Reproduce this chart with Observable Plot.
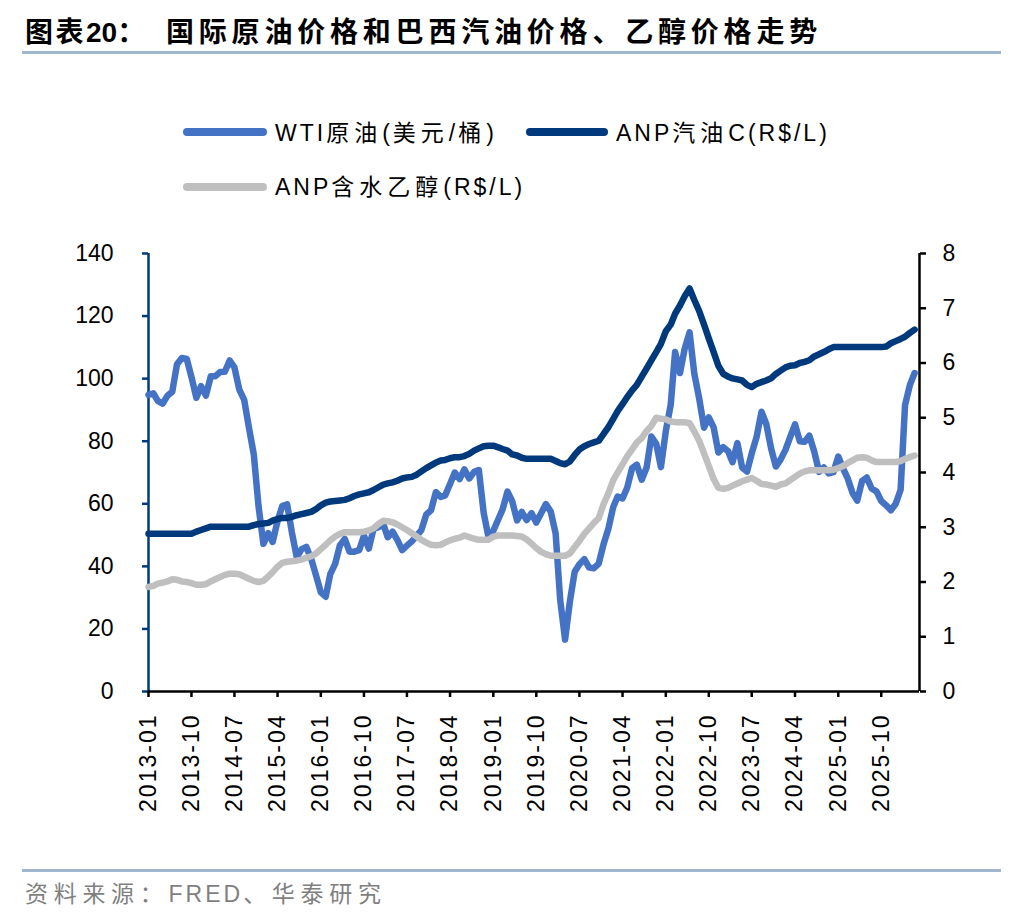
<!DOCTYPE html>
<html>
<head>
<meta charset="utf-8">
<script src="https://cdn.jsdelivr.net/npm/d3@7"></script>
<script src="https://cdn.jsdelivr.net/npm/@observablehq/plot@0.6"></script>
<style>
  body { margin: 0; background: #fff; }
  #wrap { position: relative; width: 1036px; height: 916px; overflow: hidden;
          font-family: "Liberation Sans", Arial, "Noto Sans CJK SC", sans-serif; color: #000; }
  .abs { position: absolute; white-space: nowrap; }
  .rule { position: absolute; left: 22px; width: 979px; height: 3px; background: #A0B6CE; }
  .swatch { position: absolute; height: 8px; border-radius: 4px; }
  .lg { font-size: 23px; line-height: 23px; letter-spacing: 3px; }
  #chart { position: absolute; left: 0; top: 230px; }
  g[aria-label="x-axis tick label"] text { letter-spacing: 2px; }
</style>
</head>
<body>
<div id="wrap">
  <div class="abs" id="title1" style="left:25px; top:19px; font-size:28px; line-height:28px; font-weight:700;"></div>
  <div class="abs" id="title2" style="left:166px; top:19px; font-size:28px; line-height:28px; font-weight:700;"></div>
  <div class="rule" style="top:51px;"></div>

  <div class="swatch" id="sw0" style="left:183px; top:127.5px; width:84px;"></div>
  <div class="abs lg" id="lg0" style="left:275px; top:122px;"></div>
  <div class="swatch" id="sw1" style="left:526px; top:127.5px; width:82px;"></div>
  <div class="abs lg" id="lg1" style="left:616px; top:122px;"></div>
  <div class="swatch" id="sw2" style="left:183px; top:182.5px; width:84px;"></div>
  <div class="abs lg" id="lg2" style="left:275px; top:176px;"></div>

  <div id="chart"></div>

  <div class="rule" style="top:868.5px;"></div>
  <div class="abs" id="src" style="left:25px; top:882.5px; font-size:23px; line-height:23px; letter-spacing:3px; color:#7F7F7F;"></div>
</div>
<script>
// ---------------- data ----------------
const titleLead = "图表20：";
const titleMain = "国际原油价格和巴西汽油价格、乙醇价格走势";
const sourceText = "资料来源：FRED、华泰研究";
const seriesNames = ["WTI原油(美元/桶)", "ANP汽油C(R$/L)", "ANP含水乙醇(R$/L)"];
const seriesColors = ["#4472C4", "#003A7D", "#BFBFBF"];

const firstMonth = "2013-01";
const axisEndMonth = "2026-06";

// WTI crude, USD/bbl, monthly from 2013-01 (left axis)
const wti = [
  94.8, 95.3, 92.9, 92.0, 94.5, 95.8, 104.6, 106.6, 106.3, 100.5, 93.9, 97.6,
  94.6, 100.8, 100.8, 102.1, 102.2, 105.8, 103.6, 96.5, 93.2, 84.4, 75.8, 59.3,
  47.2, 50.6, 47.8, 54.5, 59.3, 59.8, 50.9, 42.9, 45.5, 46.2, 42.4, 37.2,
  31.7, 30.3, 37.5, 40.8, 46.7, 48.8, 44.7, 44.7, 45.2, 49.8, 45.7, 52.0,
  52.5, 53.5, 49.3, 51.1, 48.5, 45.2, 46.6, 48.0, 49.8, 51.6, 56.6, 57.9,
  63.7, 62.2, 62.7, 66.3, 70.0, 67.9, 71.0, 68.1, 70.2, 70.8, 57.0, 49.5,
  51.4, 55.0, 58.2, 63.9, 60.8, 54.7, 57.4, 54.8, 57.0, 54.0, 57.0, 59.9,
  57.5, 50.5, 29.2, 16.6, 28.6, 38.3, 40.7, 42.3, 39.6, 39.4, 40.9, 47.0,
  52.0, 59.0, 62.3, 61.7, 65.2, 71.4, 72.5, 67.7, 71.6, 81.5, 79.2, 71.7,
  83.2, 91.6, 108.5, 101.8, 109.6, 114.8, 101.6, 93.7, 84.3, 87.6, 84.4, 76.4,
  78.1, 76.8, 73.3, 79.4, 71.6, 70.3, 76.1, 81.4, 89.4, 85.6, 77.7, 71.9,
  74.2, 77.3, 81.3, 85.4, 80.0, 79.8, 81.8, 76.7, 70.2, 71.6, 69.7, 70.1,
  75.1, 71.2, 68.2, 63.5, 61.0, 67.3, 68.4, 64.9, 63.9, 60.9, 59.5, 57.9,
  60.0, 64.5, 91.5, 98.0, 101.8
];

// ANP gasoline C, R$/L (right axis)
const gasoline = [
  2.88, 2.88, 2.88, 2.88, 2.88, 2.88, 2.88, 2.88, 2.88, 2.88, 2.92, 2.95,
  2.98, 3.01, 3.01, 3.01, 3.01, 3.01, 3.01, 3.01, 3.01, 3.01, 3.04, 3.06,
  3.07, 3.08, 3.12, 3.15, 3.17, 3.17, 3.19, 3.22, 3.24, 3.26, 3.28, 3.33,
  3.40, 3.45, 3.47, 3.48, 3.49, 3.50, 3.53, 3.57, 3.60, 3.62, 3.64, 3.68,
  3.73, 3.78, 3.80, 3.82, 3.85, 3.89, 3.91, 3.92, 3.96, 4.02, 4.08, 4.13,
  4.18, 4.22, 4.23, 4.26, 4.28, 4.28, 4.30, 4.34, 4.40, 4.44, 4.48, 4.49,
  4.49, 4.46, 4.43, 4.40, 4.33, 4.31, 4.27, 4.25, 4.25, 4.25, 4.25, 4.25,
  4.25, 4.21, 4.17, 4.15, 4.20, 4.32, 4.42, 4.48, 4.52, 4.55, 4.58, 4.70,
  4.83, 4.98, 5.12, 5.25, 5.38, 5.50, 5.60, 5.75, 5.90, 6.05, 6.20, 6.35,
  6.58, 6.70, 6.90, 7.05, 7.22, 7.36, 7.15, 6.95, 6.70, 6.45, 6.20, 5.95,
  5.80, 5.75, 5.72, 5.70, 5.68, 5.60, 5.56, 5.62, 5.65, 5.68, 5.72, 5.80,
  5.86, 5.92, 5.95, 5.96, 6.00, 6.02, 6.05, 6.12, 6.16, 6.20, 6.25, 6.29,
  6.29, 6.29, 6.29, 6.29, 6.29, 6.29, 6.29, 6.29, 6.29, 6.29, 6.30, 6.36,
  6.40, 6.44, 6.48, 6.55, 6.61
];

// ANP hydrous ethanol, R$/L (right axis)
const ethanol = [
  1.91, 1.93, 1.97, 1.99, 2.01, 2.05, 2.04, 2.01, 2.00, 1.98, 1.95, 1.95,
  1.96, 2.01, 2.05, 2.09, 2.13, 2.15, 2.15, 2.14, 2.10, 2.06, 2.02, 2.00,
  2.02, 2.10, 2.18, 2.28, 2.35, 2.37, 2.38, 2.39, 2.41, 2.44, 2.47, 2.52,
  2.60, 2.68, 2.76, 2.83, 2.88, 2.91, 2.91, 2.91, 2.91, 2.92, 2.94, 2.98,
  3.06, 3.12, 3.11, 3.09, 3.05, 3.00, 2.95, 2.89, 2.83, 2.77, 2.72, 2.68,
  2.67, 2.68, 2.72, 2.76, 2.79, 2.81, 2.85, 2.82, 2.79, 2.77, 2.77, 2.77,
  2.83, 2.85, 2.85, 2.85, 2.85, 2.84, 2.83, 2.78, 2.70, 2.62, 2.55, 2.51,
  2.48, 2.48, 2.48, 2.48, 2.52, 2.64, 2.75, 2.88, 2.98, 3.08, 3.17, 3.42,
  3.62, 3.86, 4.00, 4.15, 4.30, 4.42, 4.55, 4.63, 4.76, 4.85, 5.00, 4.98,
  4.97, 4.93, 4.92, 4.92, 4.92, 4.90, 4.75, 4.58, 4.35, 4.12, 3.88, 3.72,
  3.70, 3.72, 3.76, 3.80, 3.84, 3.87, 3.90, 3.85, 3.79, 3.78, 3.76, 3.74,
  3.78, 3.80, 3.86, 3.92, 3.98, 4.02, 4.04, 4.04, 4.04, 4.04, 4.04, 4.05,
  4.08, 4.12, 4.17, 4.22, 4.27, 4.28, 4.27, 4.22, 4.19, 4.19, 4.19, 4.19,
  4.19, 4.21, 4.25, 4.28, 4.31
];

const leftTicks = [0, 20, 40, 60, 80, 100, 120, 140];
const rightTicks = [0, 1, 2, 3, 4, 5, 6, 7, 8];
const xTickLabels = ["2013-01","2013-10","2014-07","2015-04","2016-01","2016-10","2017-07","2018-04","2019-01",
                     "2019-10","2020-07","2021-04","2022-01","2022-10","2023-07","2024-04","2025-01","2025-10"];

// ---------------- build ----------------
const parseM = d3.utcParse("%Y-%m");
const fmtM = d3.utcFormat("%Y-%m");
const start = parseM(firstMonth);
const axisEnd = parseM(axisEndMonth);
const K = 140 / 8; // right-axis units mapped onto left-axis scale

const rows = wti.map((v, i) => ({
  date: d3.utcMonth.offset(start, i),
  wti: v,
  gas: gasoline[i] * K,
  eth: ethanol[i] * K
}));
const xTicks = xTickLabels.map(parseM);

function spaced(str, cjkSpacing) {
  return str.replace(/([\u3000-\u303f\u4e00-\u9fff\uff00-\uffef]+)/g,
    `<span style="letter-spacing:${cjkSpacing}px">$1</span>`);
}
document.getElementById("title1").innerHTML = spaced(titleLead, 2.5);
document.getElementById("title2").innerHTML = spaced(titleMain, 4.8);
for (let i = 0; i < 3; i++) {
  document.getElementById("sw" + i).style.background = seriesColors[i];
  document.getElementById("lg" + i).innerHTML = spaced(seriesNames[i], 5);
}
document.getElementById("src").innerHTML = spaced(sourceText, 5.7);

const NAVY = "#003A7D";
const chart = Plot.plot({
  width: 1036,
  height: 610,
  marginLeft: 148,
  marginRight: 117,
  marginTop: 23,
  marginBottom: 149,
  style: { fontFamily: '"Liberation Sans", Arial, sans-serif', fontSize: "23px", color: "black", background: "white", overflow: "visible" },
  x: { type: "utc", domain: [start, axisEnd] },
  y: { domain: [0, 140] },
  marks: [
    Plot.ruleX([start], { stroke: NAVY, strokeWidth: 2.5 }),
    Plot.ruleX([axisEnd], { stroke: "black", strokeWidth: 2.5 }),
    Plot.ruleY([0], { stroke: "black", strokeWidth: 2.5 }),
    Plot.axisY({ anchor: "left", ticks: leftTicks, tickSize: 6, tickPadding: 29, stroke: NAVY, strokeWidth: 2.5, fill: "black", label: null }),
    Plot.axisY({ anchor: "right", ticks: rightTicks.map(t => t * K), tickFormat: d => String(Math.round(d / K)), tickSize: 6, tickPadding: 17, stroke: "black", strokeWidth: 2.5, fill: "black", label: null }),
    Plot.axisX({ anchor: "bottom", ticks: xTicks, tickFormat: fmtM, tickSize: 6, tickPadding: 16, tickRotate: -90, stroke: "black", strokeWidth: 2.5, fill: "black", label: null }),
    Plot.lineY(rows, { x: "date", y: "wti", stroke: seriesColors[0], strokeWidth: 6.5, strokeLinejoin: "round", strokeLinecap: "round" }),
    Plot.lineY(rows, { x: "date", y: "gas", stroke: seriesColors[1], strokeWidth: 6.5, strokeLinejoin: "round", strokeLinecap: "round" }),
    Plot.lineY(rows, { x: "date", y: "eth", stroke: seriesColors[2], strokeWidth: 6.5, strokeLinejoin: "round", strokeLinecap: "round" })
  ]
});
document.getElementById("chart").appendChild(chart);
</script>
</body>
</html>
